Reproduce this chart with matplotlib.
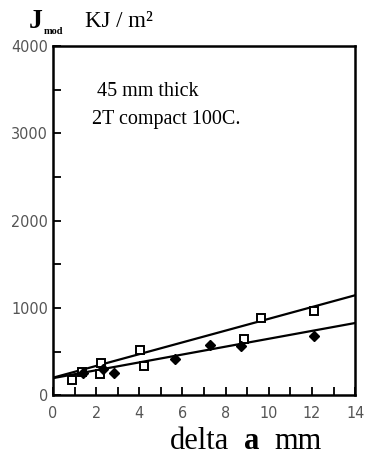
import matplotlib
matplotlib.use("Agg")
import matplotlib.pyplot as plt
from matplotlib.ticker import MultipleLocator

# open squares
sq_x = [0.87, 1.37, 2.18, 2.25, 4.03, 4.23, 8.84, 9.66, 12.08]
sq_y = [172, 260, 237, 370, 516, 336, 646, 886, 963]
# filled points
fd_x = [1.40, 2.30, 2.82, 5.65, 7.27, 8.73, 12.10]
fd_y = [250, 300, 256, 420, 573, 562, 680]
# fitted lines (end points)
fit_x = [0, 14]
fit_upper = [200, 1145]
fit_lower = [195, 827]

x_ticks = [0, 2, 4, 6, 8, 10, 12, 14]
y_ticks = [0, 1000, 2000, 3000, 4000]

fig = plt.figure(figsize=(3.65, 4.66), dpi=100)
ax = fig.add_axes([0.145, 0.152, 0.828, 0.749])

ax.plot(fit_x, fit_upper, color="black", lw=1.6)
ax.plot(fit_x, fit_lower, color="black", lw=1.6)
ax.plot(sq_x, sq_y, ls="none", marker="s", ms=6, mfc="white", mec="black", mew=1.4)
ax.plot(fd_x, fd_y, ls="none", marker="D", ms=5.5, mfc="black", mec="black")

ax.set_xlim(0, 14)
ax.set_ylim(0, 4000)
ax.set_xticks(x_ticks)
ax.set_yticks(y_ticks)
ax.xaxis.set_minor_locator(MultipleLocator(1))
ax.yaxis.set_minor_locator(MultipleLocator(500))
ax.tick_params(which="both", direction="in", length=6, width=1.3, colors="black",
               labelcolor="#555555", labelsize=11.5)
ax.tick_params(axis="x", pad=8)
for lab in ax.get_xticklabels() + ax.get_yticklabels():
    lab.set_family(["DejaVu Sans"])
    lab.set_stretch("condensed")
    lab.set_weight("light")
for s in ax.spines.values():
    s.set_linewidth(1.8)

serif = ["Liberation Serif", "DejaVu Serif"]
ax.text(2.05, 3480, "45 mm thick", fontsize=14.5, family=serif, va="center")
ax.text(1.8, 3160, "2T compact 100C.", fontsize=14.5, family=serif, va="center")

fig.text(0.08, 0.94, "J", fontsize=20, fontweight="bold", family=serif)
fig.text(0.12, 0.928, "mod", fontsize=7.5, fontweight="bold", family=serif)
fig.text(0.232, 0.943, "KJ / m²", fontsize=16.5, family=serif)

fig.text(0.465, 0.036, "delta", fontsize=22, family=serif)
fig.text(0.668, 0.036, "a", fontsize=22, fontweight="bold", family=serif)
fig.text(0.752, 0.036, "mm", fontsize=22, family=serif)

fig.savefig("out.png", dpi=100)
